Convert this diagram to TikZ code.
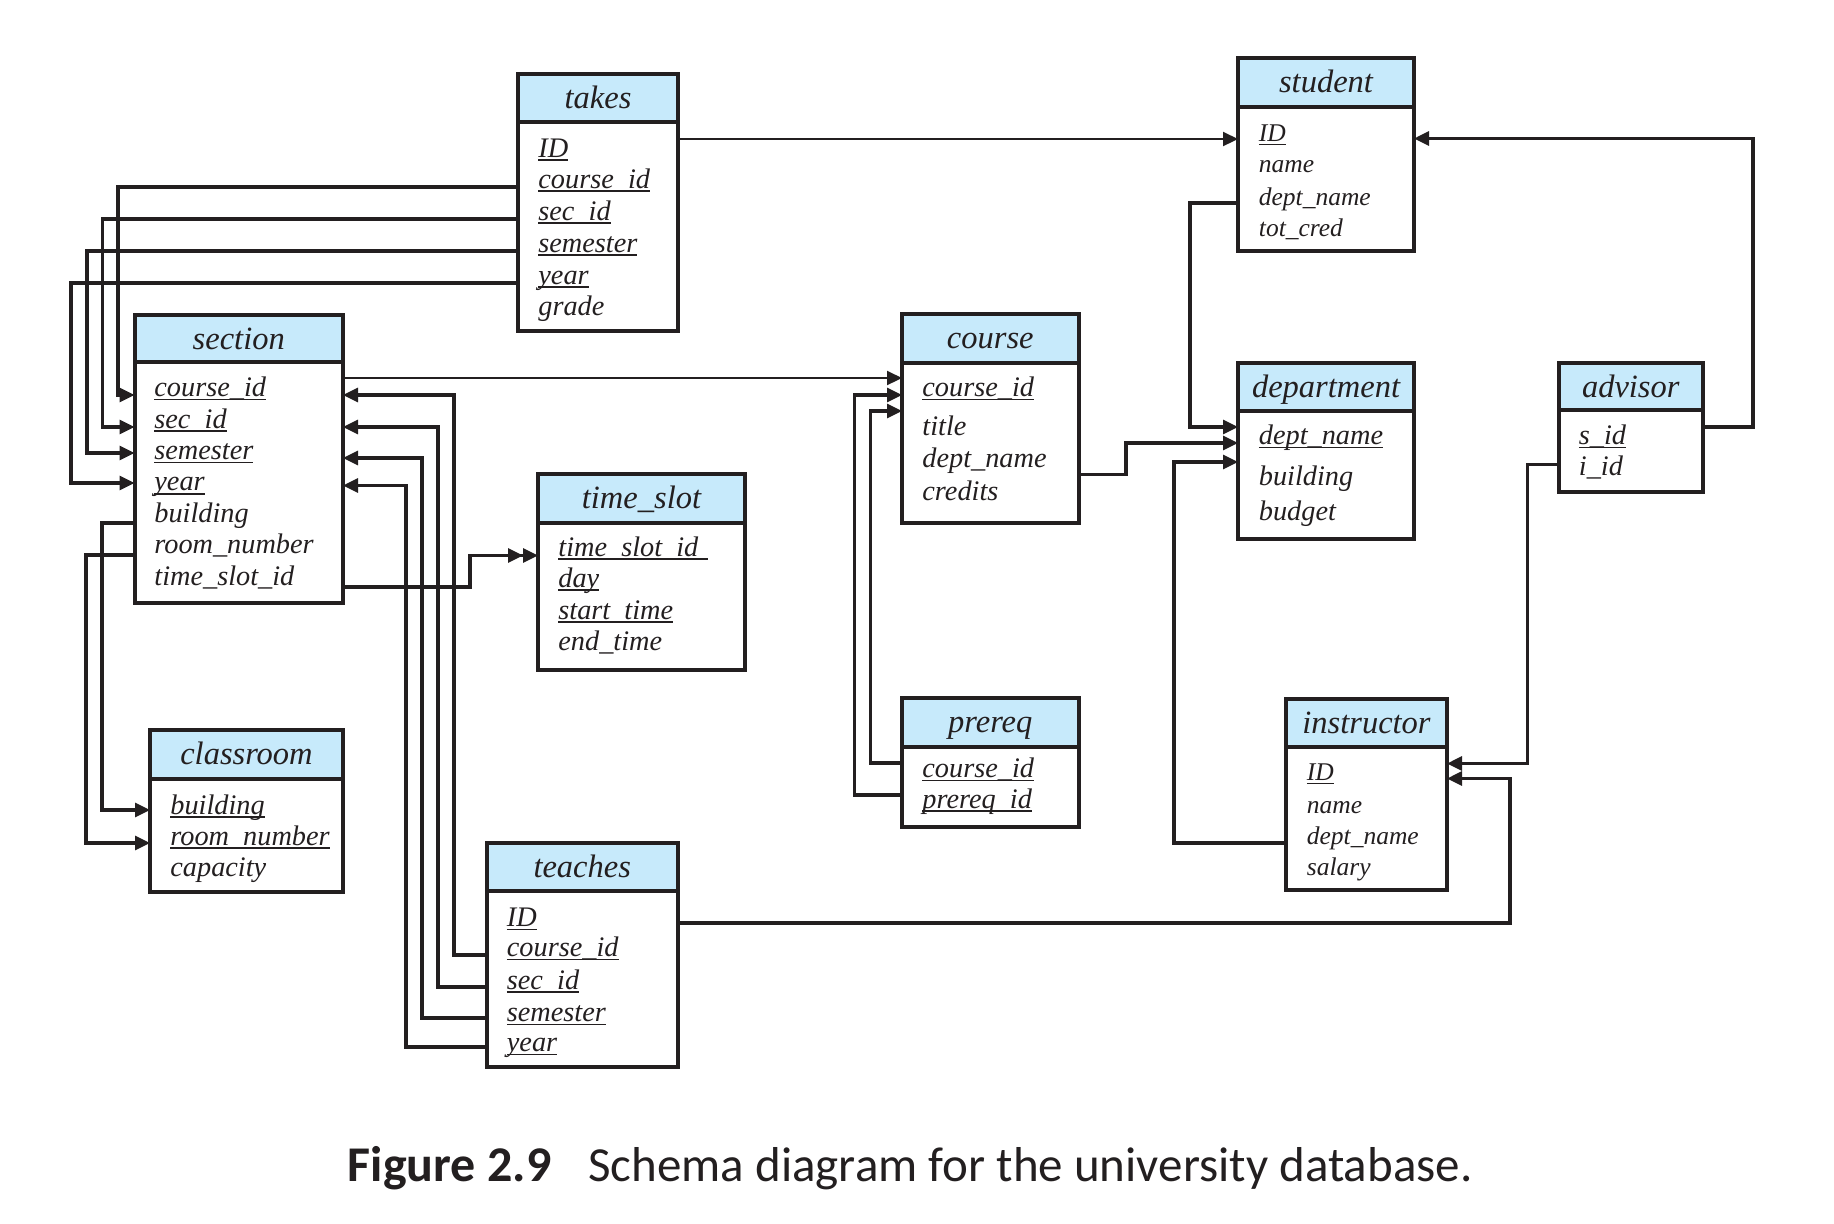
\documentclass[tikz,border=0pt]{standalone}
\usepackage{fontspec}
\setmainfont{Liberation Serif}
\newfontfamily\capfont{Carlito}
\usetikzlibrary{arrows.meta,fit}

\definecolor{ink}{RGB}{35,31,32}
\definecolor{hdrblue}{RGB}{199,234,251}

% primary-key underline at a fixed depth below the baseline
\newcommand\pk[1]{\setbox0=\hbox{#1}\rlap{\rule[-1.8pt]{\wd0}{0.7pt}}\box0}

\tikzset{
  tabborder/.style={draw=ink, line width=2pt},
  tablebox/.style={tabborder, inner sep=0pt, outer sep=0pt},
  tabtitle/.style={font=\fontsize{16.25pt}{18pt}\selectfont\itshape, text=ink, anchor=base, inner sep=0pt},
  attr/.style={font=\fontsize{14.15pt}{16pt}\selectfont\itshape, text=ink, anchor=base west, inner sep=0pt},
  attrsm/.style={attr, font=\fontsize{12.75pt}{15pt}\selectfont\itshape},
  fk/.style={draw=ink, line width=1.55pt, -{Triangle[length=7.5pt,width=7pt]}},
  fkthin/.style={fk, line width=1.05pt},
  fkdouble/.style={draw=ink, line width=1.55pt, -{Triangle[length=7.5pt,width=7pt]Triangle[length=7.5pt,width=7pt]}},
}

% name, x1, y1, x2, y2, y of header rule, title
\newcommand\dbtable[7]{%
  \fill[hdrblue] (#2,#3) rectangle (#4,#6);
  \draw[tabborder] (#2,#6) -- (#4,#6);
  \node[tablebox, fit={(#2,#3) (#4,#5)}] (#1) {};
  \node[tabtitle] (#1-title) at ({(#2+#4)/2},{#3+34}) {#7};
}

\begin{document}
\begin{tikzpicture}[x=0.5pt,y=-0.5pt]
\fill[white] (0,0) rectangle (1834,1223);
\useasboundingbox (0,0) rectangle (1834,1223);

% ---------------- tables ----------------
\dbtable{takes}{518}{74}{678}{331}{122}{takes}
\node[attr] (takes-a1) at (538,157) {\pk{ID}};
\node[attr] (takes-a2) at (538,188) {\pk{course\_id}};
\node[attr] (takes-a3) at (538,220) {\pk{sec\_id}};
\node[attr] (takes-a4) at (538,252) {\pk{semester}};
\node[attr] (takes-a5) at (538,284) {\pk{year}};
\node[attr] (takes-a6) at (538,315) {grade};

\dbtable{student}{1238}{58}{1414}{251}{107}{student}
\node[attrsm] (student-a1) at (1258.5,141.7) {\pk{ID}};
\node[attrsm] (student-a2) at (1258.5,172.7) {name};
\node[attrsm] (student-a3) at (1258.5,205) {dept\_name};
\node[attrsm] (student-a4) at (1258.5,236.7) {tot\_cred};

\dbtable{section}{134.5}{315}{343}{603}{362}{section}
\node[attr] (section-a1) at (154,396.7) {\pk{course\_id}};
\node[attr] (section-a2) at (154,428.1) {\pk{sec\_id}};
\node[attr] (section-a3) at (154,459.5) {\pk{semester}};
\node[attr] (section-a4) at (154,490.9) {\pk{year}};
\node[attr] (section-a5) at (154,522.3) {building};
\node[attr] (section-a6) at (154,553.7) {room\_number};
\node[attr] (section-a7) at (154,585.1) {time\_slot\_id};

\dbtable{course}{902}{314}{1078.5}{523}{362.5}{course}
\node[attr] (course-a1) at (922,396.4) {\pk{course\_id}};
\node[attr] (course-a2) at (922,435.7) {title};
\node[attr] (course-a3) at (922,467.9) {dept\_name};
\node[attr] (course-a4) at (922,500) {credits};

\dbtable{department}{1238}{363}{1414}{539}{411}{department}
\node[attr] (department-a1) at (1258.5,444.6) {\pk{dept\_name}};
\node[attr] (department-a2) at (1258.5,485) {building};
\node[attr] (department-a3) at (1258.5,520.7) {budget};

\dbtable{advisor}{1558.5}{363}{1703}{492}{410}{advisor}
\node[attr] (advisor-a1) at (1578.5,444.3) {\pk{s\_id}};
\node[attr] (advisor-a2) at (1578.5,475) {i\_id};

\dbtable{timeslot}{538}{474}{745}{670}{523}{time\_slot}
\node[attr] (timeslot-a1) at (558,556) {\pk{time\_slot\_id\kern5pt}};
\node[attr] (timeslot-a2) at (558,587) {\pk{day}};
\node[attr] (timeslot-a3) at (558,619) {\pk{start\_time}};
\node[attr] (timeslot-a4) at (558,650) {end\_time};

\dbtable{classroom}{150}{730}{343}{892}{779}{classroom}
\node[attr] (classroom-a1) at (170,814) {\pk{building}};
\node[attr] (classroom-a2) at (170,845) {\pk{room\_number}};
\node[attr] (classroom-a3) at (170,876) {capacity};

\dbtable{prereq}{902}{698}{1078.5}{827}{746.5}{prereq}
\node[attr] (prereq-a1) at (922,777.5) {\pk{course\_id}};
\node[attr] (prereq-a2) at (922,808) {\pk{prereq\_id}};

\dbtable{instructor}{1286}{699}{1447}{890}{747}{instructor}
\node[attrsm] (instructor-a1) at (1306.5,780.7) {\pk{ID}};
\node[attrsm] (instructor-a2) at (1306.5,813) {name};
\node[attrsm] (instructor-a3) at (1306.5,844) {dept\_name};
\node[attrsm] (instructor-a4) at (1306.5,875) {salary};

\dbtable{teaches}{486.5}{843}{678}{1067}{891}{teaches}
\node[attr] (teaches-a1) at (506.5,926.7) {\pk{ID}};
\node[attr] (teaches-a2) at (506.5,956.7) {\pk{course\_id}};
\node[attr] (teaches-a3) at (506.5,989) {\pk{sec\_id}};
\node[attr] (teaches-a4) at (506.5,1021.7) {\pk{semester}};
\node[attr] (teaches-a5) at (506.5,1051.7) {\pk{year}};

% ---------------- attachment points on the table edges ----------------
\coordinate (tk-id)   at (678,139);
\coordinate (tk-cid)  at (518,187);
\coordinate (tk-sid)  at (518,219);
\coordinate (tk-sem)  at (518,251);
\coordinate (tk-yr)   at (518,283);
\coordinate (st-idL)  at (1238,139);
\coordinate (st-idR)  at (1414,138.5);
\coordinate (st-dept) at (1238,203);
\coordinate (se-cidL) at (134.5,395);
\coordinate (se-sidL) at (134.5,427);
\coordinate (se-semL) at (134.5,453);
\coordinate (se-yrL)  at (134.5,483);
\coordinate (se-cidR) at (343,395);
\coordinate (se-sidR) at (343,427);
\coordinate (se-semR) at (343,458);
\coordinate (se-yrR)  at (343,485.5);
\coordinate (se-top)  at (343,378);
\coordinate (se-bld)  at (134.5,523);
\coordinate (se-room) at (134.5,555);
\coordinate (se-ts)   at (343,587);
\coordinate (co-cid1) at (902,378);
\coordinate (co-cid2) at (902,395);
\coordinate (co-cid3) at (902,411);
\coordinate (co-dept) at (1078.5,474.5);
\coordinate (de-d1)   at (1238,427);
\coordinate (de-d2)   at (1238,443);
\coordinate (de-d3)   at (1238,462);
\coordinate (ad-sid)  at (1703,427);
\coordinate (ad-iid)  at (1558.5,464.5);
\coordinate (ts-id)   at (538,555.5);
\coordinate (cl-bld)  at (150,810);
\coordinate (cl-room) at (150,843);
\coordinate (pr-cid)  at (902,763);
\coordinate (pr-pid)  at (902,795);
\coordinate (in-id1)  at (1447,763.5);
\coordinate (in-id2)  at (1447,778.5);
\coordinate (in-dept) at (1286,843);
\coordinate (te-id)   at (678,923);
\coordinate (te-cid)  at (486.5,955);
\coordinate (te-sid)  at (486.5,987);
\coordinate (te-sem)  at (486.5,1018);
\coordinate (te-yr)   at (486.5,1047);

% ---------------- foreign keys ----------------
\draw[fkthin] (tk-id) -- (st-idL);
\draw[fk] (tk-cid) -| (118,395) -- (se-cidL);
\draw[fk] (tk-sid) -| (102.5,427) -- (se-sidL);
\draw[fk] (tk-sem) -| (87,453) -- (se-semL);
\draw[fk] (tk-yr)  -| (71,483) -- (se-yrL);

\draw[fkthin] (se-top) -- (co-cid1);

\draw[fk] (te-cid) -| (454,395) -- (se-cidR);
\draw[fk] (te-sid) -| (438,427) -- (se-sidR);
\draw[fk] (te-sem) -| (422,458) -- (se-semR);
\draw[fk] (te-yr)  -| (406,485.5) -- (se-yrR);

\draw[fk] (se-bld)  -| (102,810) -- (cl-bld);
\draw[fk] (se-room) -| (86,843) -- (cl-room);
\draw[fkdouble] (se-ts) -| (470,555.5) -- (ts-id);

\draw[fk] (pr-cid) -| (870.5,411) -- (co-cid3);
\draw[fk] (pr-pid) -| (854.5,395) -- (co-cid2);

\draw[fk] (co-dept) -| (1126,443) -- (de-d2);
\draw[fk] (st-dept) -| (1190,427) -- (de-d1);
\draw[fk] (in-dept) -| (1174,462) -- (de-d3);

\draw[fk] (ad-sid) -| (1753,138.5) -- (st-idR);
\draw[fk] (ad-iid) -| (1527.5,763.5) -- (in-id1);
\draw[fk] (te-id)  -| (1510,778.5) -- (in-id2);

% ---------------- caption ----------------
\node[anchor=base west, inner sep=0pt, text=ink,
      font=\capfont\fontsize{25pt}{29pt}\selectfont\bfseries] (figno) at (347.5,1181) {Figure 2.9};
\node[anchor=base west, inner sep=0pt, text=ink,
      font=\capfont\fontsize{24.5pt}{28pt}\selectfont] (figcap) at (588,1181) {Schema diagram for the university database.};
\end{tikzpicture}
\end{document}
